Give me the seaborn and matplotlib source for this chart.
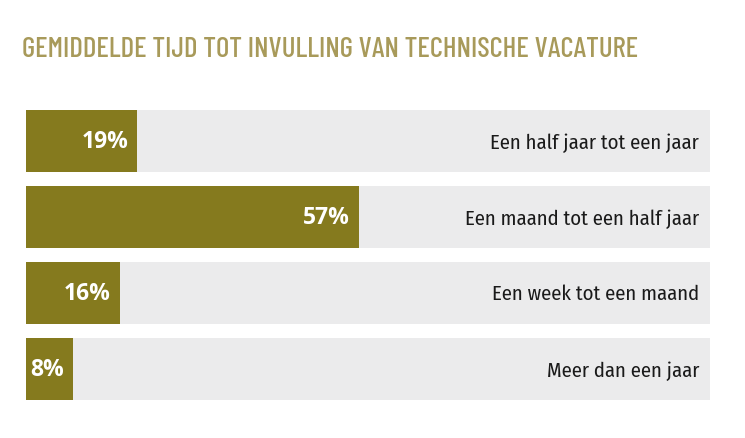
import matplotlib
matplotlib.use("Agg")
import matplotlib.pyplot as plt
import seaborn as sns
import pandas as pd

categories = ["Een half jaar tot een jaar", "Een maand tot een half jaar",
              "Een week tot een maand", "Meer dan een jaar"]
values = [19, 57, 16, 8]
pct_labels = ["19%", "57%", "16%", "8%"]
title = "GEMIDDELDE TIJD TOT INVULLING VAN TECHNISCHE VACATURE"
scale_max = [117, 117, 117, 117]

sns.set_theme(style="white")
plt.rcParams['font.family'] = ['Carlito', 'DejaVu Sans']

df = pd.DataFrame({"cat": categories, "val": values, "bg": scale_max})

fig = plt.figure(figsize=(7.45, 4.38), dpi=100)
ax = fig.add_axes([26/745, 1-407/438, (710-26)/745, (407-103)/438])

sns.barplot(data=df, x="bg", y="cat", color="#EBEBEC", width=62/76,
            saturation=1, ax=ax, orient="h", linewidth=0)
sns.barplot(data=df, x="val", y="cat", color="#857A1E", width=62/76,
            saturation=1, ax=ax, orient="h", linewidth=0)

ax.set_xlim(0, scale_max[0])
ax.set_ylim(3.5, -0.5)
px = 72 / 100
for i, (v, lab, cat) in enumerate(zip(values, pct_labels, categories)):
    ax.annotate(lab, (v, i), xytext=(-9 * px, -7.5 * px), textcoords="offset points",
                ha="right", va="baseline", color="white", fontsize=16.5,
                fontweight="bold", family=['Open Sans', 'DejaVu Sans'])
    ax.annotate(cat, (scale_max[i], i), xytext=(-11 * px, -7.5 * px), textcoords="offset points",
                ha="right", va="baseline", color="#1A1A1A", fontsize=14.9,
                family=['Fira Sans Condensed', 'Carlito', 'DejaVu Sans'])

ax.set_xlabel("")
ax.set_ylabel("")
ax.set_xticks([])
ax.set_yticks([])
for s in ax.spines.values():
    s.set_visible(False)

fig.text(22/745, 1-57/438, title, family=['Barlow Condensed', 'DejaVu Sans'], fontsize=20.8,
         fontweight="medium", color="#A89A5A", ha="left", va="baseline")

fig.savefig("out.png", dpi=100, facecolor="white")
